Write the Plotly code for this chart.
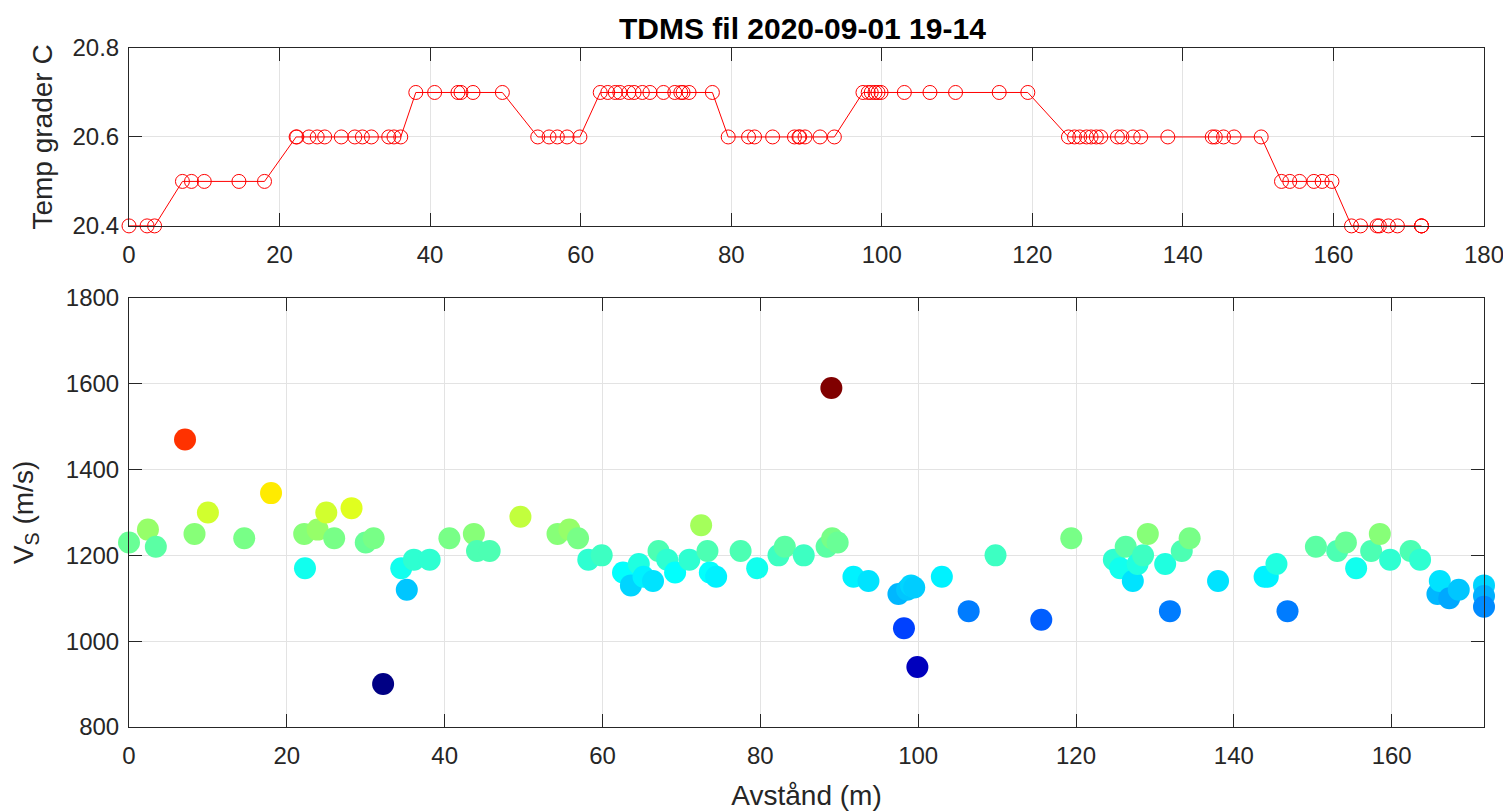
import plotly.graph_objects as go

# Distance along track (m)
avstand = [0.0, 2.4, 3.4, 7.1, 8.3, 10.0, 14.6, 18.0, 22.2, 22.3,
           23.9, 25.0, 26.0, 28.2, 30.0, 31.0, 32.2, 34.5, 35.2, 36.1,
           38.1, 40.6, 43.7, 44.1, 45.7, 49.6, 54.3, 55.8, 56.9, 58.2,
           59.9, 62.6, 63.6, 64.6, 65.2, 66.4, 67.1, 68.2, 69.2, 71.0,
           72.5, 73.3, 73.6, 74.4, 77.5, 79.6, 82.3, 83.1, 85.5, 88.4,
           89.0, 89.1, 89.8, 91.8, 93.7, 97.5, 98.2, 98.6, 99.1, 99.5,
           99.9, 103.0, 106.4, 109.8, 115.6, 119.4, 124.8, 125.6, 126.3, 127.2,
           127.8, 128.5, 129.1, 131.3, 131.9, 133.4, 134.4, 138.0, 143.9, 144.3,
           145.4, 146.8, 150.4, 153.1, 154.2, 155.5, 157.4, 158.5, 159.8, 162.4,
           163.6, 165.8, 166.1, 167.3, 168.5, 171.7, 171.7, 171.7]

# Temperature (grader C)
temp = [20.4, 20.4, 20.4, 20.5, 20.5, 20.5, 20.5, 20.5, 20.6, 20.6,
        20.6, 20.6, 20.6, 20.6, 20.6, 20.6, 20.6, 20.6, 20.6, 20.6,
        20.7, 20.7, 20.7, 20.7, 20.7, 20.7, 20.6, 20.6, 20.6, 20.6,
        20.6, 20.7, 20.7, 20.7, 20.7, 20.7, 20.7, 20.7, 20.7, 20.7,
        20.7, 20.7, 20.7, 20.7, 20.7, 20.6, 20.6, 20.6, 20.6, 20.6,
        20.6, 20.6, 20.6, 20.6, 20.6, 20.7, 20.7, 20.7, 20.7, 20.7,
        20.7, 20.7, 20.7, 20.7, 20.7, 20.7, 20.6, 20.6, 20.6, 20.6,
        20.6, 20.6, 20.6, 20.6, 20.6, 20.6, 20.6, 20.6, 20.6, 20.6,
        20.6, 20.6, 20.6, 20.5, 20.5, 20.5, 20.5, 20.5, 20.5, 20.4,
        20.4, 20.4, 20.4, 20.4, 20.4, 20.4, 20.4, 20.4]

# Shear wave velocity Vs (m/s)
vs = [1230, 1260, 1220, 1470, 1250, 1300, 1240, 1345, 1250, 1170,
      1260, 1300, 1240, 1310, 1230, 1240, 900, 1170, 1120, 1190,
      1190, 1240, 1250, 1210, 1210, 1290, 1250, 1260, 1240, 1190,
      1200, 1160, 1130, 1180, 1150, 1140, 1210, 1190, 1160, 1190,
      1270, 1210, 1160, 1150, 1210, 1170, 1200, 1220, 1200, 1220,
      1590, 1240, 1230, 1150, 1140, 1110, 1030, 1120, 1130, 1125,
      940, 1150, 1070, 1200, 1050, 1240, 1190, 1170, 1220, 1140,
      1180, 1200, 1250, 1180, 1070, 1210, 1240, 1140, 1150, 1150,
      1180, 1070, 1220, 1210, 1230, 1170, 1210, 1250, 1190, 1210,
      1190, 1110, 1140, 1100, 1120, 1130, 1105, 1080]

title_text = "TDMS fil 2020-09-01 19-14"
top_xticks = [0, 20, 40, 60, 80, 100, 120, 140, 160, 180]
top_yticks = [20.4, 20.6, 20.8]
bot_xticks = [0, 20, 40, 60, 80, 100, 120, 140, 160]
bot_yticks = [800, 1000, 1200, 1400, 1600, 1800]

jet = [[0.0, "rgb(0,0,132)"], [0.125, "rgb(0,0,255)"], [0.375, "rgb(0,255,255)"],
       [0.625, "rgb(255,255,0)"], [0.875, "rgb(255,0,0)"], [1.0, "rgb(128,0,0)"]]

FONT = "Liberation Sans, Arial, Helvetica, sans-serif"
AX = "#262626"
GRID = "#e3e3e3"

# page body has an 8px default margin; figure is sized to fit the 1511x811 window
W, H = 1503, 803

fig = go.Figure()

fig.add_trace(go.Scatter(
    x=avstand, y=temp, mode="lines+markers", xaxis="x", yaxis="y",
    line=dict(color="rgb(255,0,0)", width=1),
    marker=dict(symbol="circle-open", size=14, color="rgb(255,0,0)", line=dict(width=1)),
    cliponaxis=False, showlegend=False, hoverinfo="x+y"))

fig.add_trace(go.Scatter(
    x=avstand, y=vs, mode="markers", xaxis="x2", yaxis="y2",
    marker=dict(size=22, color=vs, colorscale=jet, cmin=min(vs), cmax=max(vs),
                line=dict(width=0), opacity=1, showscale=False),
    cliponaxis=False, showlegend=False, hoverinfo="x+y"))

common = dict(showline=True, linecolor=AX, linewidth=1, mirror="ticks",
              ticks="inside", ticklen=13, tickcolor=AX, tickwidth=1,
              showgrid=True, gridcolor=GRID, gridwidth=1, zeroline=False,
              automargin=False,
              tickfont=dict(family=FONT, size=24, color=AX))

fig.update_layout(
    width=W, height=H,
    paper_bgcolor="white", plot_bgcolor="white",
    margin=dict(l=121, r=27, t=40, b=84),
    title=dict(text="<b>" + title_text + "</b>", x=0.497, xref="paper", xanchor="center",
               y=1 - 20 / H, yref="container", yanchor="middle", automargin=False,
               font=dict(family=FONT, size=30, color="black")),
    xaxis=dict(domain=[0, 1], anchor="y", range=[0, 180], tickvals=top_xticks,
               ticklabelstandoff=7, **common),
    yaxis=dict(domain=[0.738, 1], anchor="x", range=[20.4, 20.8], tickvals=top_yticks,
               tickformat=".1f", ticklabelstandoff=4,
               title=dict(text="Temp grader C", standoff=11,
                          font=dict(family=FONT, size=28, color=AX)), **common),
    xaxis2=dict(domain=[0, 1], anchor="y2", range=[0, max(avstand)], tickvals=bot_xticks,
                ticklabelstandoff=7,
                title=dict(text="Avstånd (m)", standoff=18,
                           font=dict(family=FONT, size=28, color=AX)), **common),
    yaxis2=dict(domain=[0, 0.632], anchor="x2", range=[800, 1800], tickvals=bot_yticks,
                ticklabelstandoff=4,
                title=dict(text="V<sub>S</sub> (m/s)", standoff=24,
                           font=dict(family=FONT, size=28, color=AX)), **common),
)

fig.write_html("out.html")
